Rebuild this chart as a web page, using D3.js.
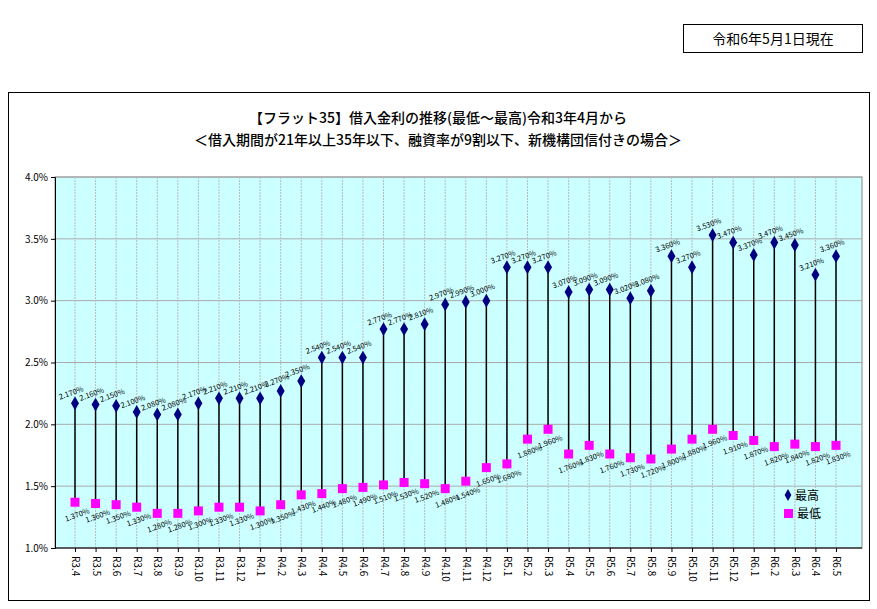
<!DOCTYPE html><html><head><meta charset="utf-8"><script src="https://cdn.jsdelivr.net/npm/d3@7"></script>
<style>body{margin:0;background:#fff}text{font-family:"Noto Sans CJK JP",sans-serif}</style></head><body><svg id="c" width="877" height="609"></svg><script>
const categories=["R3.4","R3.5","R3.6","R3.7","R3.8","R3.9","R3.10","R3.11","R3.12","R4.1","R4.2","R4.3","R4.4","R4.5","R4.6","R4.7","R4.8","R4.9","R4.10","R4.11","R4.12","R5.1","R5.2","R5.3","R5.4","R5.5","R5.6","R5.7","R5.8","R5.9","R5.10","R5.11","R5.12","R6.1","R6.2","R6.3","R6.4","R6.5"];
const highValues=[2.17,2.16,2.15,2.10,2.08,2.08,2.17,2.21,2.21,2.21,2.27,2.35,2.54,2.54,2.54,2.77,2.77,2.81,2.97,2.99,3.00,3.27,3.27,3.27,3.07,3.09,3.09,3.02,3.08,3.36,3.27,3.53,3.47,3.37,3.47,3.45,3.21,3.36];
const lowValues=[1.37,1.36,1.35,1.33,1.28,1.28,1.30,1.33,1.33,1.30,1.35,1.43,1.44,1.48,1.49,1.51,1.53,1.52,1.48,1.54,1.65,1.68,1.88,1.96,1.76,1.83,1.76,1.73,1.72,1.80,1.88,1.96,1.91,1.87,1.82,1.84,1.82,1.83];
const yTicks=[1.0,1.5,2.0,2.5,3.0,3.5,4.0];
const svg=d3.select("#c");
svg.append("rect").attr("x",683.5).attr("y",24.5).attr("width",179).attr("height",28).attr("fill","#fff").attr("stroke","#000");
svg.append("text").attr("x",773).attr("y",44).attr("text-anchor","middle").attr("font-size",14).text("令和6年5月1日現在");
svg.append("rect").attr("x",8.5).attr("y",92.5).attr("width",861).attr("height",508).attr("fill","#fff").attr("stroke","#000");
svg.append("text").attr("x",438).attr("y",123).attr("text-anchor","middle").attr("font-size",14).attr("font-weight","500").text("【フラット35】借入金利の推移(最低～最高)令和3年4月から");
svg.append("text").attr("x",438).attr("y",145).attr("text-anchor","middle").attr("font-size",14).attr("font-weight","500").text("＜借入期間が21年以上35年以下、融資率が9割以下、新機構団信付きの場合＞");
const L=55,R=862,T=177,B=548;
const x=d3.scalePoint().domain(categories).range([75,836]);
const y=d3.scaleLinear().domain([1,4]).range([B,T]);
svg.append("rect").attr("x",L).attr("y",T).attr("width",R-L).attr("height",B-T).attr("fill","#ccffff").attr("stroke","#888");
const g=svg.append("g");
g.selectAll(".hg").data(yTicks).join("line").attr("x1",L).attr("x2",R).attr("y1",d=>y(d)).attr("y2",d=>y(d)).attr("stroke","#aaa");
g.selectAll(".vg").data(categories).join("line").attr("x1",d=>x(d)).attr("x2",d=>x(d)).attr("y1",T).attr("y2",B).attr("stroke","#bbb").attr("stroke-dasharray","2,1");
const ya=svg.append("g").attr("transform",`translate(${L},0)`).call(d3.axisLeft(y).tickValues(yTicks).tickFormat(d=>d.toFixed(1)+"%").tickSize(4));
ya.selectAll("text").attr("font-size",10).attr("font-family","Liberation Sans,Arial");
ya.select(".domain").attr("stroke","#000");
const xa=svg.append("g").attr("transform",`translate(0,${B})`).call(d3.axisBottom(x).tickSize(4));
xa.select(".domain").remove();
svg.append("line").attr("x1",L).attr("x2",R).attr("y1",B).attr("y2",B).attr("stroke","#000");
xa.selectAll("text").attr("font-size",10).attr("font-family","Liberation Sans,Arial").attr("transform","rotate(90)").attr("text-anchor","start").attr("dy","0.35em").attr("x",8).attr("y",0);
const data=categories.map((c,i)=>({c,h:highValues[i],l:lowValues[i]}));
svg.selectAll(".st").data(data).join("line").attr("x1",d=>x(d.c)).attr("x2",d=>x(d.c)).attr("y1",d=>y(d.h)).attr("y2",d=>y(d.l)).attr("stroke","#000").attr("stroke-width",1.5);
svg.selectAll(".hi").data(data).join("path").attr("d",d3.symbol(d3.symbolDiamond,55)).attr("transform",d=>`translate(${x(d.c)},${y(d.h)})`).attr("fill","#000080");
svg.selectAll(".lo").data(data).join("rect").attr("x",d=>x(d.c)-4.5).attr("y",d=>y(d.l)-4.5).attr("width",9).attr("height",9).attr("fill","#ff00ff");
svg.selectAll(".hl").data(data).join("text").attr("font-size",7.5).attr("font-family","Liberation Sans,Arial").attr("text-anchor","middle")
 .attr("transform",d=>`translate(${x(d.c)-3},${y(d.h)-8}) rotate(-20)`).text(d=>d.h.toFixed(3)+"%");
svg.selectAll(".ll").data(data).join("text").attr("font-size",7.5).attr("font-family","Liberation Sans,Arial").attr("text-anchor","middle")
 .attr("transform",d=>`translate(${x(d.c)+3},${y(d.l)+15}) rotate(-20)`).text(d=>d.l.toFixed(3)+"%");
svg.append("path").attr("d",d3.symbol(d3.symbolDiamond,40)).attr("transform","translate(788,495)").attr("fill","#000080");
svg.append("text").attr("x",795).attr("y",500).attr("font-size",12).text("最高");
svg.append("rect").attr("x",784).attr("y",509).attr("width",9).attr("height",9).attr("fill","#ff00ff");
svg.append("text").attr("x",797).attr("y",518).attr("font-size",12).text("最低");
</script></body></html>
